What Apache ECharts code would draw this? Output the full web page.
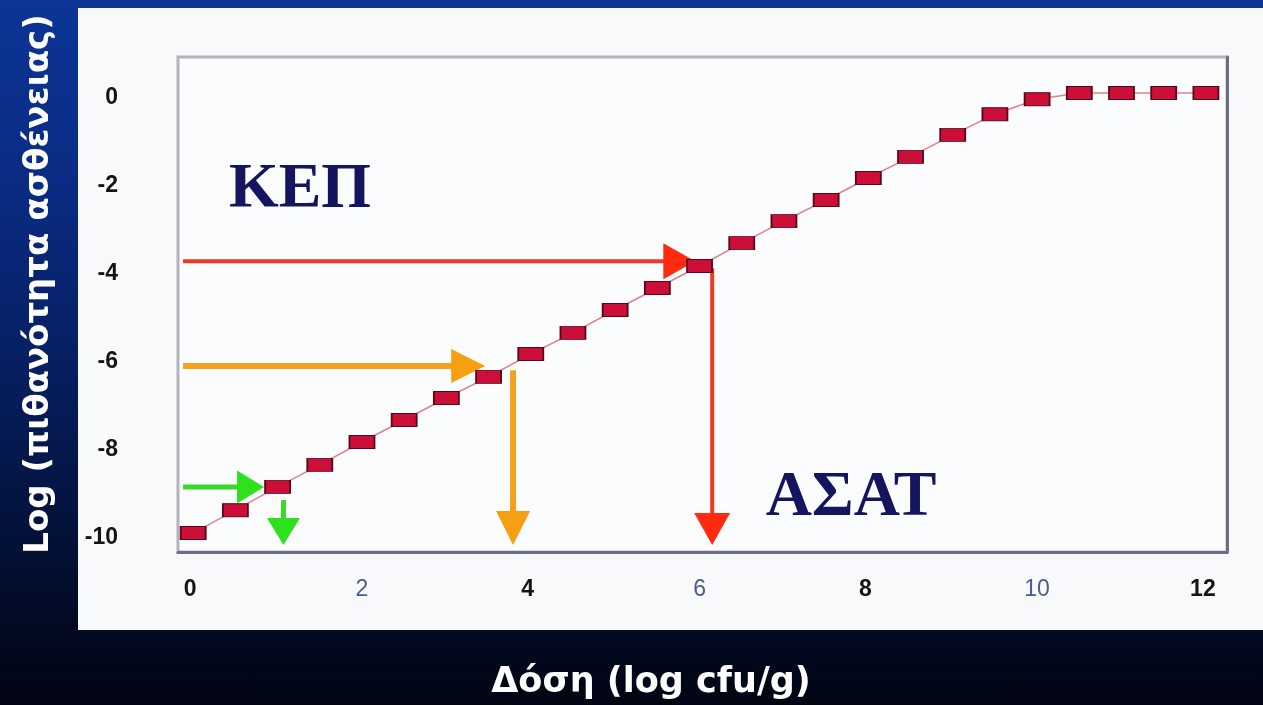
<!DOCTYPE html>
<html><head><meta charset="utf-8">
<script src="https://cdn.jsdelivr.net/npm/echarts@6/dist/echarts.min.js"></script>
<style>
html,body{margin:0;padding:0;width:1263px;height:705px;overflow:hidden;
background:linear-gradient(to bottom,#0c3596 0%,#0a2c84 25%,#072064 50%,#041440 72%,#020a24 88%,#010512 100%);}
#panel{position:absolute;left:78px;top:8px;width:1185px;height:622px;background:#f7f9fb;}
#c{position:absolute;left:0;top:0;width:1263px;height:705px;}
</style>
</head><body><div id="panel"></div><div id="c"></div><script>
// ---- data ----
const doseX = [0,0.5,1,1.5,2,2.5,3,3.5,4,4.5,5,5.5,6,6.5,7,7.5,8,8.5,9,9.5,10,10.5,11,11.5,12];
const logRisk = [-10,-9.48,-8.95,-8.45,-7.93,-7.43,-6.93,-6.45,-5.93,-5.45,-4.93,-4.43,-3.93,-3.41,-2.91,-2.43,-1.93,-1.45,-0.95,-0.48,-0.14,0,0,0,0];
const xTicks = [0,2,4,6,8,10,12];
const yTicks = [-10,-8,-6,-4,-2,0];
// arrows: [xFrom, yFrom, xTo, yTo]
const redArrows = [[-0.12,-3.82,5.95,-3.82],[6.15,-3.98,6.15,-10.27]];
const orangeArrows = [[-0.12,-6.2,3.46,-6.2],[3.79,-6.3,3.79,-10.27]];
const greenArrows = [[-0.12,-8.95,0.84,-8.95],[1.07,-9.25,1.07,-10.27]];

// ---- styles ----
const arrowStyles = {
  red:{color:'#ee3a22',head:'#ff2a10',width:4,hl:32,hw:36},
  orange:{color:'#f4a21e',head:'#f5a012',width:6,hl:34,hw:34},
  green:{color:'#3ad82a',head:'#2fe01c',width:5,hl:27,hw:33}
};

function arrowSeries(name,data,st){
  return {
    type:'custom', name:name, data:data, z:3, clip:false, silent:true,
    renderItem:function(params,api){
      const p0=api.coord([api.value(0),api.value(1)]);
      const p1=api.coord([api.value(2),api.value(3)]);
      const dx=p1[0]-p0[0], dy=p1[1]-p0[1];
      const len=Math.sqrt(dx*dx+dy*dy);
      const ux=dx/len, uy=dy/len, px=-uy, py=ux;
      const bx=p1[0]-ux*st.hl, by=p1[1]-uy*st.hl;
      return {type:'group',children:[
        {type:'line',shape:{x1:p0[0],y1:p0[1],x2:bx+ux*2,y2:by+uy*2},
          style:{stroke:st.color,lineWidth:st.width}},
        {type:'polygon',shape:{points:[[p1[0],p1[1]],[bx+px*st.hw/2,by+py*st.hw/2],[bx-px*st.hw/2,by-py*st.hw/2]]},
          style:{fill:st.head}}
      ]};
    }
  };
}

const chart = echarts.init(document.getElementById('c'),null,{renderer:'canvas'});
chart.setOption({
  backgroundColor:'transparent',
  animation:false,
  grid:{left:178,top:57,right:36,bottom:153,show:true,backgroundColor:'#fbfcfd',borderColor:'#b2b3bd',borderWidth:3},
  xAxis:{type:'value',min:-0.18,max:12.25,
    axisLine:{show:true,onZero:false,lineStyle:{color:'#6c6e86',width:3}},
    axisTick:{show:false},splitLine:{show:false},
    axisLabel:{customValues:xTicks,margin:26,
      formatter:function(v){return (v%4===0?'{a|':'{b|')+v+'}';},
      rich:{a:{fontFamily:'Liberation Sans',fontWeight:'bold',fontSize:23,color:'#151515',padding:[0,6,0,0]},
            b:{fontFamily:'Liberation Sans',fontWeight:'normal',fontSize:23,color:'#4d5b8e'}}}
  },
  yAxis:[{type:'value',min:-10.43,max:0.82,
    axisLine:{show:false},axisTick:{show:false},splitLine:{show:false},
    axisLabel:{customValues:yTicks,margin:60,
      formatter:function(v){return '{t|'+v+'}';},
      rich:{t:{fontFamily:'Liberation Sans',fontWeight:'bold',fontSize:23,color:'#141414',padding:[10,0,0,0]}}}
  },{type:'value',position:'right',min:-10.43,max:0.82,
    axisLine:{show:true,lineStyle:{color:'#6c6e86',width:3}},axisTick:{show:false},
    splitLine:{show:false},axisLabel:{show:false}}],
  graphic:[
    {type:'text',x:300,y:190,z:10,style:{text:'ΚΕΠ',font:'bold 64px "Liberation Serif"',fill:'#15155f',textAlign:'center',textVerticalAlign:'middle',align:'center',verticalAlign:'middle'}},
    {type:'text',x:851,y:498,z:10,style:{text:'ΑΣΑΤ',font:'bold 64px "Liberation Serif"',fill:'#15155f',textAlign:'center',textVerticalAlign:'middle',align:'center',verticalAlign:'middle'}},
    {type:'text',x:651,y:683,z:10,style:{text:'Δόση (log cfu/g)',font:'bold 35px "DejaVu Sans"',fill:'#ffffff',textAlign:'center',textVerticalAlign:'middle',align:'center',verticalAlign:'middle'}},
    {type:'text',x:39,y:284,rotation:Math.PI/2,z:10,style:{text:'Log (πιθανότητα ασθένειας)',font:'bold 34px "DejaVu Sans"',fill:'#ffffff',textAlign:'center',textVerticalAlign:'middle',align:'center',verticalAlign:'middle'}}
  ],
  series:[
    arrowSeries('red',redArrows,arrowStyles.red),
    arrowSeries('orange',orangeArrows,arrowStyles.orange),
    arrowSeries('green',greenArrows,arrowStyles.green),
    {type:'line',name:'risk',z:5,data:doseX.map((x,i)=>[x,logRisk[i]]),
      symbol:'rect',symbolSize:[25,13],showSymbol:true,
      itemStyle:{color:'#cc0f38',borderColor:'#560818',borderWidth:1.3},
      lineStyle:{color:'#e0808e',width:1.5}}
  ]
});
</script></body></html>
